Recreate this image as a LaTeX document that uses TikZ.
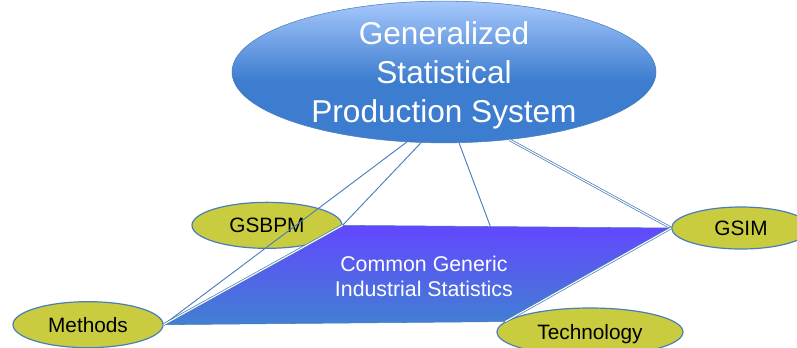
\documentclass[tikz,border=0pt]{standalone}
\usepackage{fontspec}
\setsansfont{Liberation Sans}
\usetikzlibrary{positioning,shapes.geometric,calc}
\definecolor{linkblue}{HTML}{4A7EBB}
\definecolor{ovalgreen}{HTML}{C9CC3F}
\definecolor{gsdark}{HTML}{3D7DCF}
\definecolor{gslight}{HTML}{A6C8FC}
\definecolor{cgtop}{HTML}{6347FF}
\definecolor{cgbottom}{HTML}{4180D2}
\pgfdeclareverticalshading{gsshade}{100bp}{color(0bp)=(gsdark); color(25bp)=(gsdark); color(47bp)=(gsdark); color(75bp)=(gslight); color(100bp)=(gslight)}
\tikzset{big oval/.style={ellipse,draw=linkblue,shade,shading=gsshade,text=white,font=\sffamily\fontsize{23.7}{29}\selectfont,align=center,inner sep=0pt,text depth=0pt,minimum width=318pt,minimum height=97.5pt},
small oval/.style={ellipse,draw=linkblue,line width=0.9pt,fill=ovalgreen,font=\sffamily\fontsize{15.6}{18}\selectfont,inner sep=0pt,text depth=0pt,minimum width=#1,minimum height=34.5pt},
link/.style={draw=linkblue,line width=0.7pt},
double link/.style={draw=linkblue,line width=0.55pt,double=white,double distance=0.8pt}}

\begin{document}
\begin{tikzpicture}[x=0.75pt,y=-0.75pt,node distance=1cm,on grid]
\useasboundingbox (0,0) rectangle (797,347);
\node[big oval] (gsps) at (444,72) {Generalized\\Statistical\\Production System};
\node[small oval=112.5pt] (gsbpm) [below left=115pt and 132.75pt of gsps] {GSBPM};
\node[small oval=112.5pt] (methods) [below left=74.5pt and 134.25pt of gsbpm] {Methods};
\node[small oval=104pt,minimum height=31.5pt] (gsim) [below right=117pt and 222.75pt of gsps] {GSIM};
\node[small oval=139.5pt,minimum height=36pt] (technology) [below left=78pt and 113.25pt of gsim] {Technology};
% common generic part
\path[draw=linkblue,thin,top color=cgtop,bottom color=cgbottom] (methods.east) -- (gsbpm.east) -- (gsim.west) -- (technology.173) -- cycle;
\node[font=\sffamily\fontsize{16}{19}\selectfont,text=white,align=center,yshift=-2.25pt] (cgis) at ($(gsbpm.east)!0.5!(technology.173)$) {Common Generic\\Industrial Statistics};
\coordinate (cgtopmid) at ($(gsbpm.east)!0.45!(gsim.west)$);
\draw[link] (gsps.242) -- (methods.east);
\draw[link] (gsps.252) -- (gsbpm.east);
\draw[link] (gsps.282) -- (cgtopmid);
\draw[double link] (gsps.314) -- (gsim.west);
\draw[double link] (methods.east) -- (gsbpm.east);
\draw[double link] (gsim.west) -- (technology.173);
\end{tikzpicture}
\end{document}
